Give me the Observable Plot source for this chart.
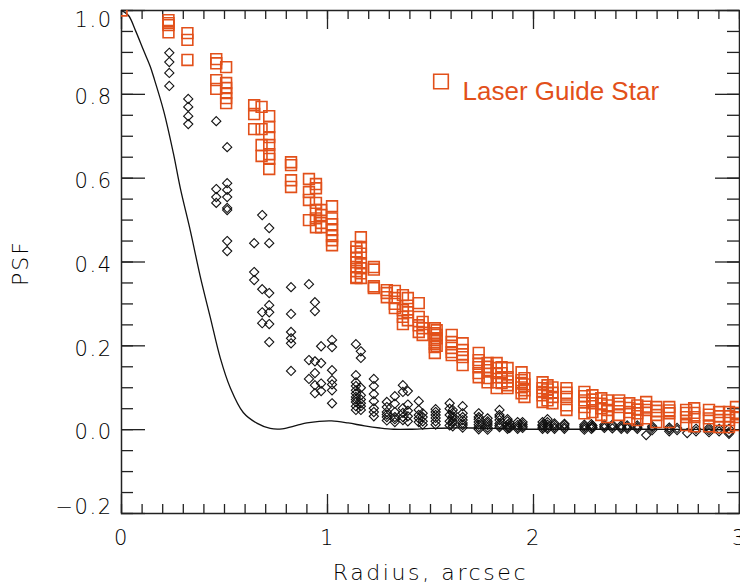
<!DOCTYPE html>
<html><head><meta charset="utf-8">
<script src="https://cdn.jsdelivr.net/npm/d3@7"></script>
<script src="https://cdn.jsdelivr.net/npm/@observablehq/plot@0.6"></script>
<style>body{margin:0;background:#fff} svg{display:block}</style>
</head><body><div id="chart"></div>
<script>
// Theoretical (diffraction-limited) profile
const profileRadius = [0, 0.034, 0.068, 0.107, 0.14, 0.155, 0.205, 0.252, 0.286, 0.334, 0.383, 0.431, 0.479, 0.528, 0.591, 0.659, 0.722, 0.78, 0.85, 0.90, 0.96, 1.02, 1.10, 1.18, 1.254, 1.32, 1.40, 1.50, 1.60, 1.70, 1.80, 1.90, 2.0, 2.2, 2.5, 3.0];
const profilePsf    = [1.0, 0.988, 0.952, 0.905, 0.866, 0.843, 0.760, 0.659, 0.575, 0.475, 0.364, 0.268, 0.172, 0.100, 0.041, 0.015, 0.003, 0.002, 0.010, 0.016, 0.020, 0.021, 0.016, 0.009, 0.004, 0.001, 0.001, 0.003, 0.004, 0.004, 0.003, 0.002, 0.001, 0.001, 0.001, 0.0];

// Laser Guide Star measurements (squares), grouped by radius
const lgsRadius = [0.000, 0.228, 0.320, 0.460, 0.508, 0.644, 0.680, 0.717, 0.823, 0.910, 0.944, 0.969, 1.022, 1.140, 1.162, 1.225, 1.288, 1.327, 1.366, 1.390, 1.443, 1.462, 1.521, 1.530, 1.603, 1.656, 1.734, 1.777, 1.821, 1.845, 1.874, 1.942, 1.956, 2.044, 2.068, 2.092, 2.160, 2.247, 2.286, 2.329, 2.358, 2.416, 2.465, 2.504, 2.547, 2.596, 2.659, 2.741, 2.780, 2.852, 2.901, 2.949, 2.983];
const lgsPsf = [
  [1.0],
  [0.977, 0.970, 0.965, 0.948],
  [0.946, 0.930, 0.882],
  [0.884, 0.874, 0.834, 0.813],
  [0.865, 0.827, 0.815, 0.803, 0.791, 0.779],
  [0.774, 0.753, 0.717],
  [0.770, 0.717, 0.679, 0.653],
  [0.748, 0.722, 0.698, 0.679, 0.657, 0.646, 0.622],
  [0.638, 0.631, 0.595, 0.579],
  [0.598, 0.567, 0.548, 0.500],
  [0.586, 0.576, 0.541, 0.524, 0.504, 0.483],
  [0.524, 0.512, 0.493, 0.483],
  [0.533, 0.504, 0.490, 0.476, 0.462, 0.452, 0.440],
  [0.436, 0.425, 0.409, 0.399, 0.388, 0.378, 0.364, 0.362],
  [0.459, 0.436, 0.420, 0.397, 0.385, 0.373, 0.362],
  [0.388, 0.382, 0.342, 0.338],
  [0.333, 0.316, 0.326],
  [0.331, 0.314, 0.300, 0.290],
  [0.321, 0.285, 0.269, 0.252],
  [0.314, 0.296, 0.280, 0.261],
  [0.302, 0.269, 0.249, 0.233],
  [0.257, 0.242, 0.226],
  [0.242, 0.230, 0.214, 0.205, 0.197, 0.183],
  [0.237, 0.226, 0.218, 0.200],
  [0.226, 0.209, 0.195, 0.185, 0.178],
  [0.206, 0.190, 0.180, 0.173, 0.154],
  [0.183, 0.166, 0.157, 0.149, 0.135, 0.125],
  [0.159, 0.150, 0.142, 0.123, 0.113],
  [0.159, 0.147, 0.135, 0.113, 0.099],
  [0.149, 0.135, 0.125, 0.111],
  [0.147, 0.125, 0.115, 0.106, 0.099],
  [0.137, 0.118, 0.110, 0.101, 0.087],
  [0.123, 0.108, 0.094, 0.078],
  [0.113, 0.099, 0.090, 0.082, 0.066],
  [0.106, 0.096, 0.087, 0.070],
  [0.101, 0.088, 0.078, 0.063],
  [0.099, 0.088, 0.078, 0.058, 0.047],
  [0.090, 0.080, 0.070, 0.054, 0.039],
  [0.082, 0.072, 0.063, 0.042],
  [0.075, 0.062, 0.051, 0.035],
  [0.070, 0.058, 0.047, 0.030],
  [0.070, 0.062, 0.054, 0.035],
  [0.063, 0.052, 0.042, 0.027],
  [0.058, 0.048, 0.039, 0.023],
  [0.066, 0.055, 0.047, 0.027],
  [0.054, 0.045, 0.035, 0.018],
  [0.054, 0.046, 0.039, 0.018],
  [0.047, 0.040, 0.030, 0.011],
  [0.051, 0.040, 0.030, 0.008],
  [0.047, 0.036, 0.027, 0.008],
  [0.042, 0.032, 0.023, 0.006],
  [0.042, 0.032, 0.023, 0.006],
  [0.054, 0.040, 0.030, 0.011]
];

// Other measurements (diamonds), grouped by radius
const ngsRadius = [0.232, 0.324, 0.460, 0.513, 0.644, 0.683, 0.717, 0.823, 0.910, 0.939, 0.969, 1.022, 1.138, 1.162, 1.225, 1.288, 1.327, 1.366, 1.390, 1.443, 1.462, 1.525, 1.593, 1.608, 1.656, 1.734, 1.777, 1.835, 1.874, 1.884, 1.923, 1.947, 2.044, 2.068, 2.102, 2.150, 2.247, 2.281, 2.286, 2.344, 2.383, 2.426, 2.455, 2.504, 2.547, 2.576, 2.659, 2.697, 2.746, 2.789, 2.852, 2.901, 2.949];
const ngsPsf = [
  [0.899, 0.877, 0.851, 0.820],
  [0.789, 0.770, 0.748, 0.729],
  [0.736, 0.574, 0.555, 0.541],
  [0.674, 0.588, 0.572, 0.555, 0.529, 0.524, 0.450, 0.426],
  [0.445, 0.376, 0.357],
  [0.512, 0.335, 0.280, 0.254],
  [0.481, 0.445, 0.326, 0.297, 0.280, 0.252, 0.209],
  [0.340, 0.276, 0.233, 0.218, 0.206, 0.140],
  [0.347, 0.166, 0.121],
  [0.304, 0.283, 0.163, 0.135, 0.106, 0.087],
  [0.199, 0.159, 0.092, 0.110],
  [0.214, 0.197, 0.142, 0.118, 0.108, 0.094, 0.063],
  [0.204, 0.130, 0.113, 0.104, 0.094, 0.086, 0.078, 0.072, 0.066, 0.056, 0.047],
  [0.187, 0.171, 0.100, 0.082, 0.072, 0.063, 0.056, 0.047],
  [0.121, 0.104, 0.085, 0.068, 0.051, 0.042, 0.032],
  [0.066, 0.054, 0.042, 0.036, 0.030, 0.022],
  [0.080, 0.062, 0.042, 0.030, 0.025, 0.018],
  [0.106, 0.090, 0.051, 0.040, 0.030, 0.023],
  [0.092, 0.060, 0.045, 0.032, 0.020],
  [0.068, 0.047, 0.035, 0.027, 0.018],
  [0.039, 0.030, 0.020, 0.012],
  [0.049, 0.042, 0.035, 0.028, 0.020, 0.012],
  [0.063, 0.050, 0.035, 0.020, 0.010],
  [0.047, 0.040, 0.032, 0.027, 0.020, 0.016, 0.008],
  [0.056, 0.039, 0.030, 0.023, 0.016, 0.011, 0.005],
  [0.039, 0.030, 0.025, 0.018, 0.012, 0.006, 0.001],
  [0.027, 0.020, 0.016, 0.011, 0.005, 0.000],
  [0.047, 0.035, 0.030, 0.023, 0.015, 0.010, 0.006],
  [0.025, 0.020, 0.012, 0.006, 0.002],
  [0.016, 0.010, 0.004],
  [0.018, 0.011, 0.006, 0.002],
  [0.018, 0.013, 0.008, 0.004],
  [0.018, 0.012, 0.010, 0.006, 0.002],
  [0.025, 0.018, 0.012, 0.006, 0.002],
  [0.015, 0.011, 0.006, 0.002],
  [0.014, 0.011, 0.006, 0.002],
  [0.012, 0.008, 0.004, 0.000],
  [0.013, 0.008, 0.002],
  [0.010, 0.006, 0.004],
  [0.012, 0.008, 0.004],
  [0.012, 0.008, 0.003],
  [0.010, 0.006, 0.002],
  [0.010, 0.006, 0.002],
  [0.010, 0.006, 0.002],
  [-0.013],
  [0.008, 0.004, -0.001],
  [0.005, 0.001, -0.004],
  [0.004, -0.001],
  [-0.008],
  [0.002, -0.004],
  [0.004, -0.001, -0.006],
  [0.002, -0.004],
  [0.002, -0.006, -0.010]
];

const xMajorTicks = [0, 1, 2, 3];
const xMinorTicks = d3.range(0, 31).map(i => i / 10);
const yMajorTicks = [-0.2, 0.0, 0.2, 0.4, 0.6, 0.8, 1.0];
const yMinorTicks = d3.range(-4, 21).map(i => i / 20);
const xAxisTitle = "Radius, arcsec";
const yAxisTitle = "PSF";
const legendLabel = "Laser Guide Star";

const orange = "#e2501a";
const axisColor = "#222";
const fontFamily = "'DejaVu Sans', 'Liberation Sans', sans-serif";

const profile = profileRadius.map((r, i) => ({r, psf: profilePsf[i]}));
const lgs = lgsRadius.flatMap((r, i) => lgsPsf[i].map(psf => ({r, psf})));
const ngs = ngsRadius.flatMap((r, i) => ngsPsf[i].map(psf => ({r, psf})));

const squareSym = {draw(ctx, size) { const h = Math.sqrt(size / Math.PI); ctx.moveTo(-h, -h); ctx.lineTo(h, -h); ctx.lineTo(h, h); ctx.lineTo(-h, h); ctx.closePath(); }};
const diamondSym = {draw(ctx, size) { const h = Math.sqrt(size / Math.PI); ctx.moveTo(0, -h); ctx.lineTo(h, 0); ctx.lineTo(0, h); ctx.lineTo(-h, 0); ctx.closePath(); }};

const W = 740, H = 587, mL = 121, mR = 1, mT = 10, mB = 74;
const innerW = W - mL - mR, innerH = H - mT - mB;
const fmt = d3.format(".1f");

const chart = Plot.plot({
  width: W, height: H,
  marginLeft: mL, marginRight: mR, marginTop: mT, marginBottom: mB,
  style: {fontFamily, fontSize: "21px", fontWeight: 300, background: "#fff"},
  x: {domain: [0, 3], axis: null},
  y: {domain: [-0.2, 1.0], axis: null},
  marks: [
    // ticks (inward, all four sides)
    Plot.ruleX(xMinorTicks, {x: d => d, insetTop: innerH - 9, stroke: axisColor, strokeWidth: 1.3}),
    Plot.ruleX(xMajorTicks, {x: d => d, insetTop: innerH - 19, stroke: axisColor, strokeWidth: 1.3}),
    Plot.ruleX(xMinorTicks, {x: d => d, insetBottom: innerH - 9, stroke: axisColor, strokeWidth: 1.3}),
    Plot.ruleX(xMajorTicks, {x: d => d, insetBottom: innerH - 19, stroke: axisColor, strokeWidth: 1.3}),
    Plot.ruleY(yMinorTicks, {y: d => d, insetRight: innerW - 12, stroke: axisColor, strokeWidth: 1.3}),
    Plot.ruleY(yMajorTicks, {y: d => d, insetRight: innerW - 24, stroke: axisColor, strokeWidth: 1.3}),
    Plot.ruleY(yMinorTicks, {y: d => d, insetLeft: innerW - 12, stroke: axisColor, strokeWidth: 1.3}),
    Plot.ruleY(yMajorTicks, {y: d => d, insetLeft: innerW - 24, stroke: axisColor, strokeWidth: 1.3}),
    Plot.frame({stroke: axisColor, strokeWidth: 1.5}),
    // tick labels
    Plot.text(xMajorTicks, {x: d => d, text: d => String(d), frameAnchor: "bottom", dy: 31, fill: "#000"}),
    Plot.text(yMajorTicks.filter(d => d > -0.2 && d < 1.0), {y: d => d, text: d => fmt(d), frameAnchor: "left", dx: -9, dy: 3, textAnchor: "end", fill: "#000"}),
    Plot.text([1.0], {y: d => d, text: d => fmt(d), frameAnchor: "left", dx: -9, dy: 10, textAnchor: "end", fill: "#000"}),
    Plot.text([-0.2], {y: d => d, text: d => fmt(d), frameAnchor: "left", dx: -9, dy: -6, textAnchor: "end", fill: "#000"}),
    // axis titles
    Plot.text([xAxisTitle], {text: d => d, frameAnchor: "bottom", dy: 66, fill: "#000", fontSize: 22}),
    Plot.text([yAxisTitle], {text: d => d, frameAnchor: "left", dx: -101, dy: 24, rotate: -90, fill: "#000", fontSize: 22}),
    // data
    Plot.line(profile, {x: "r", y: "psf", curve: "catmull-rom", stroke: "#111", strokeWidth: 1.3, clip: true}),
    Plot.dot(ngs, {x: "r", y: "psf", symbol: diamondSym, r: 4.6, stroke: "#111", strokeWidth: 1.1, fill: "none", clip: true}),
    Plot.dot(lgs, {x: "r", y: "psf", symbol: squareSym, r: 5.4, stroke: orange, strokeWidth: 1.6, fill: "none", clip: true}),
    // legend
    Plot.dot([legendLabel], {frameAnchor: "top-left", dx: 319.5, dy: 71, symbol: squareSym, r: 7.3, stroke: orange, strokeWidth: 1.6, fill: "none"}),
    Plot.text([legendLabel], {text: d => d, frameAnchor: "top-left", dx: 341, dy: 71, textAnchor: "start", fill: orange, fontSize: 26, fontFamily: "'Liberation Sans', Arial, sans-serif", fontWeight: 400})
  ]
});
// wider letter spacing for the Hershey-like axis texts
d3.select(chart).selectAll("text").each(function() {
  const t = this.textContent;
  if (t === xAxisTitle) this.style.letterSpacing = "2.6px";
  else if (t === yAxisTitle) this.style.letterSpacing = "2px";
  else if (t !== legendLabel) this.style.letterSpacing = "1.5px";
});
document.getElementById("chart").append(chart);
</script>
</body></html>
